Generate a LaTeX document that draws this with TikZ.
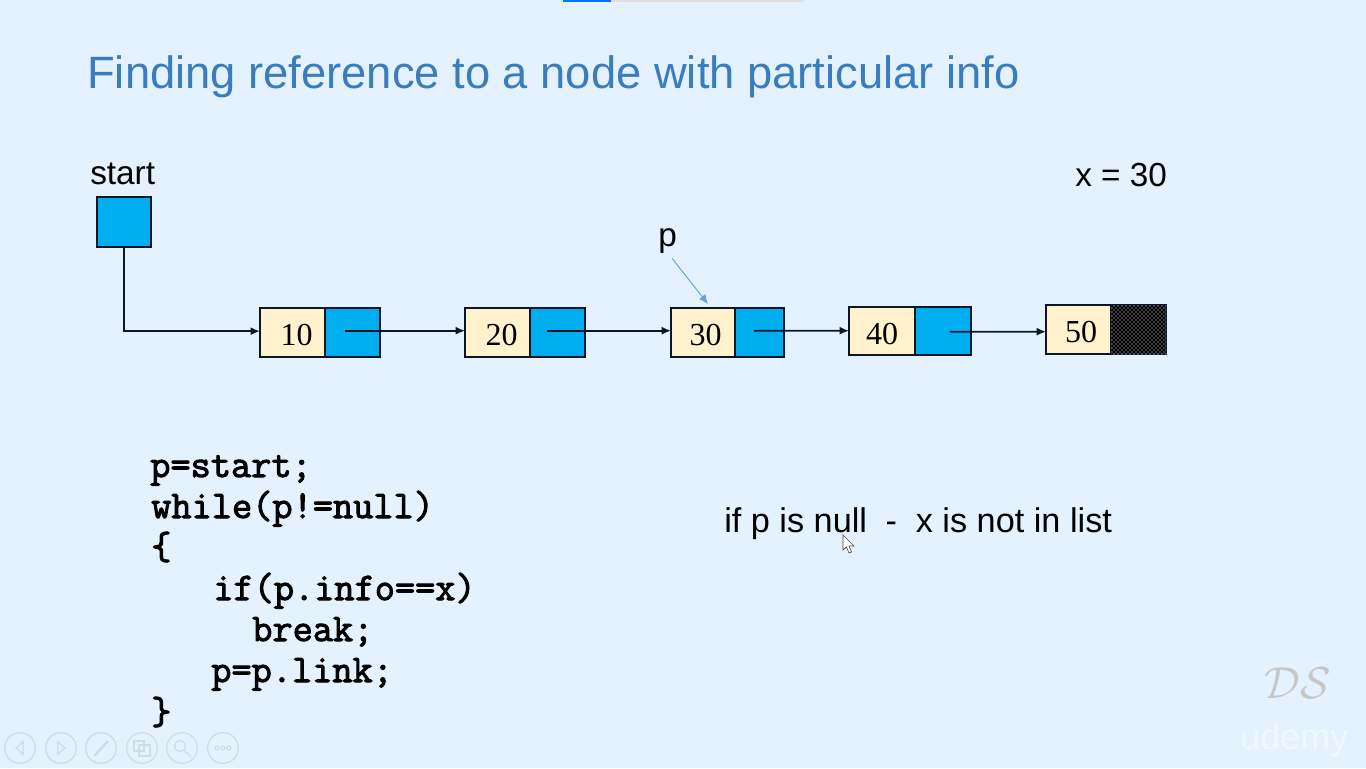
\documentclass[tikz,border=0pt]{standalone}
\usepackage{amsmath}
\usepackage{fontspec}
\usepackage{tikz}
\usetikzlibrary{patterns,arrows.meta}
\newfontfamily\slidefont{Liberation Sans}
\newfontfamily\cellfont{Liberation Serif}
\newfontfamily\codefont{Latin Modern Mono}[FakeBold=2.5]
\definecolor{slidebg}{RGB}{228,242,255}
\definecolor{slidetitle}{RGB}{58,125,190}
\definecolor{linkblue}{RGB}{0,174,239}
\definecolor{infocream}{RGB}{255,242,204}
\definecolor{edgeink}{RGB}{12,22,38}
\definecolor{pointerblue}{RGB}{105,160,215}
\definecolor{navgrey}{RGB}{207,219,230}
\tikzset{
  title/.style={anchor=base west, inner sep=0pt, text=slidetitle, font=\slidefont\fontsize{34}{34}\selectfont},
  slidetext/.style={anchor=base west, inner sep=0pt, text=black, font=\slidefont\fontsize{25}{25}\selectfont},
  codeline/.style={anchor=base west, inner sep=0pt, text=black, font=\codefont\fontsize{29.4}{29.4}\selectfont},
  cell/.style={draw=edgeink, line width=1.35pt, inner sep=0pt, outer sep=0pt},
  linkcell/.style={cell, fill=linkblue},
  infocell/.style={cell, fill=infocream, text height=20pt, text depth=0pt, font=\cellfont\fontsize{24}{24}\selectfont},
  nullcell/.style={cell, fill=black, postaction={pattern=crosshatch dots, pattern color=white}},
  link/.style={draw=edgeink, line width=1.3pt, -{Latex[length=7pt,width=6pt]}},
  pointer/.style={draw=pointerblue, line width=0.7pt, -{Latex[length=7pt,width=6pt]}},
  navbutton/.style={circle, draw=navgrey, line width=0.9pt, minimum size=23pt, inner sep=0pt},
  navicon/.style={draw=navgrey, line width=0.9pt}
}
\begin{document}
\begin{tikzpicture}[x=0.75pt, y=-0.75pt]
\useasboundingbox (0,0) rectangle (1366,768);
\fill[slidebg] (0,0) rectangle (1366,768);
\fill[blue!55!cyan] (563,0) rectangle (611,1.5); % progress
\fill[black!12] (611,0) rectangle (804,1.5);

\node[title] (heading) at (87,88) {Finding reference to a node with particular info};
\node[slidetext] (startlabel) at (90,184) {start};
\node[slidetext] (xvalue) at (1075,186) {x = 30};
\node[slidetext] (plabel) at (658,246) {p};
\node[slidetext, font=\slidefont\fontsize{25.7}{25.7}\selectfont] (nullnote) at (724,532) {if p is null\hspace{14pt}-\hspace{14pt}x is not in list};

\node[linkcell, minimum width=41pt, minimum height=37pt] (start) at (124,222) {};

\node[infocell, minimum width=48.75pt, minimum height=36.75pt] (info10) at (292.5,332.5) {\hspace*{6pt}10};
\node[linkcell, minimum width=41.25pt, minimum height=36.75pt] (link10) at (352.5,332.5) {};
\node[infocell, minimum width=48.75pt, minimum height=36.75pt] (info20) at (497.5,332.5) {\hspace*{6pt}20};
\node[linkcell, minimum width=41.25pt, minimum height=36.75pt] (link20) at (557.5,332.5) {};
\node[infocell, minimum width=48pt, minimum height=36.75pt] (info30) at (703,332.5) {\hspace*{4pt}30};
\node[linkcell, minimum width=36.75pt, minimum height=36.75pt] (link30) at (759.5,332.5) {};
\node[infocell, minimum width=49.5pt, minimum height=36pt] (info40) at (882,331) {40};
\node[linkcell, minimum width=42pt, minimum height=36pt] (link40) at (943,331) {};
\node[infocell, minimum width=48.75pt, minimum height=36.75pt] (info50) at (1078.5,329.5) {\hspace*{4pt}50};
\node[nullcell, minimum width=41.25pt, minimum height=36.75pt] (null50) at (1138.5,329.5) {};

\draw[link] (start.south) |- ([yshift=1pt]info10.west); % start to first
\draw[link] ([xshift=-5.5pt,yshift=1.35pt]link10.center) -- ([yshift=1.35pt]info20.west); % 10 to 20
\draw[link] ([xshift=-8pt,yshift=1.35pt]link20.center) -- ([yshift=1.35pt]info30.west); % 20 to 30
\draw[link] ([xshift=-4pt,yshift=1.35pt]link30.center) -- ([yshift=0.2pt]info40.west); % 30 to 40
\draw[link] ([xshift=5pt,yshift=-0.5pt]link40.center) -- ([yshift=-1.65pt]info50.west); % 40 to 50
\draw[pointer] ([xshift=3.5pt,yshift=-4pt]plabel.south) -- ([xshift=3.75pt,yshift=3pt]info30.north); % p to 30

\node[codeline] (code1) at (150,477) {p=start;};
\node[codeline] (code2) at (151,518) {while(p!=null)};
\node[codeline] (code3) at (151,559) {\{};
\node[codeline] (code4) at (213,600) {if(p.info==x)};
\node[codeline] (code5) at (252,641) {break;};
\node[codeline] (code6) at (211,682) {p=p.link;};
\node[codeline] (code7) at (151,724) {\}};

\draw[draw=black!70, fill=white, line width=0.5pt] (843,535) -- (843,550) -- (846.5,547) -- (849,553) -- (851.5,552) -- (849,546) -- (854,546) -- cycle; % cursor

\node[navbutton] (navback) at (20,748) {};
\draw[navicon] (23,742) -- (16,748) -- (23,754) -- cycle;
\node[navbutton] (navnext) at (61,748) {};
\draw[navicon] (58,742) -- (65,748) -- (58,754) -- cycle;
\node[navbutton] (navpen) at (101,748) {};
\draw[navicon, line width=1.6pt] (94,756) -- (108,741);
\node[navbutton] (navslides) at (142,748) {};
\draw[navicon] (134,741) rectangle (144,751) (139,745) rectangle (150,756);
\node[navbutton] (navzoom) at (182,748) {};
\draw[navicon] (180,746) circle (5.5) (184,750) -- (191,757);
\node[navbutton] (navmore) at (223,748) {};
\foreach \dotx in {217,223,229} \draw[navicon] (\dotx,748) circle (2);

\node[anchor=base west, inner sep=0pt, text=black!22, scale=1.35] (dsmark) at (1264,698) {\fontsize{36}{36}\selectfont$\mathcal{DS}$};
\node[anchor=base west, inner sep=0pt, text=white!45!slidebg, font=\slidefont\fontsize{27}{27}\selectfont] (udemymark) at (1240,749) {udemy};
\end{tikzpicture}
\end{document}
